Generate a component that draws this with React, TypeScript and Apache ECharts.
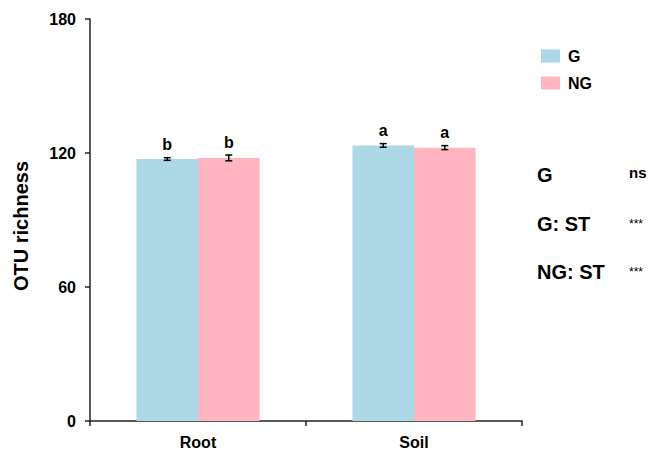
import React, { useEffect, useRef } from "react";
import * as echarts from "echarts";

const categories = ["Root", "Soil"];
const seriesNames = ["G", "NG"];
const gValues = [117.3, 123.4];
const ngValues = [117.8, 122.4];
const gErrors = [0.6, 0.8];
const ngErrors = [1.3, 0.9];
const gLetters = ["b", "a"];
const ngLetters = ["b", "a"];
const yTicks = [0, 60, 120, 180];
const statLabels = ["G", "G: ST", "NG: ST"];
const statValues = ["ns", "***", "***"];

const colors = ["#ADD8E6", "#FFB6C1"];
const FONT = "'Liberation Sans', Arial, sans-serif";
const GAP = 0.43;

export default function App() {
  const ref = useRef<HTMLDivElement>(null);
  useEffect(() => {
    if (!ref.current) return;
    document.body.style.margin = "0";
    const chart = echarts.init(ref.current, undefined, { renderer: "svg" });
    const errData: any[] = [];
    categories.forEach((c, i) => {
      errData.push([i, gValues[i], gErrors[i], gLetters[i], 0]);
      errData.push([i, ngValues[i], ngErrors[i], ngLetters[i], 1]);
    });
    const statGraphics: any[] = [];
    statLabels.forEach((s, i) => {
      const y = 175 + i * 48.5;
      statGraphics.push({
        type: "text",
        x: 537,
        y: y,
        style: { text: s, font: `bold 20px ${FONT}`, fill: "#000", verticalAlign: "middle" },
      });
      statGraphics.push({
        type: "text",
        x: 629,
        y: i === 0 ? y - 3 : y,
        style: {
          text: statValues[i],
          font: i === 0 ? `bold 15px ${FONT}` : `12px ${FONT}`,
          fill: "#000",
          verticalAlign: "middle",
        },
      });
    });
    chart.setOption({
      animation: false,
      textStyle: { fontFamily: FONT },
      grid: { left: 90, right: 128, top: 19, bottom: 27, containLabel: false },
      legend: {
        data: seriesNames,
        orient: "vertical",
        left: 536,
        top: 43,
        icon: "rect",
        itemWidth: 19,
        itemHeight: 13,
        itemGap: 11,
        textStyle: { fontSize: 16, fontWeight: "bold", color: "#000", fontFamily: FONT, padding: [0, 0, 0, 3] },
      },
      xAxis: {
        type: "category",
        data: categories,
        axisLine: { lineStyle: { color: "#222", width: 1.5 } },
        axisTick: { show: true, length: 5, lineStyle: { color: "#222", width: 1.5 } },
        axisLabel: { fontSize: 16, fontWeight: "bold", color: "#000", margin: 13, fontFamily: FONT },
      },
      yAxis: {
        type: "value",
        min: yTicks[0],
        max: yTicks[yTicks.length - 1],
        interval: 60,
        splitLine: { show: false },
        axisLine: { show: true, lineStyle: { color: "#222", width: 1.5 } },
        axisTick: { show: true, length: 5, lineStyle: { color: "#222", width: 1.5 } },
        axisLabel: { fontSize: 16, fontWeight: "bold", color: "#000", margin: 14, fontFamily: FONT },
      },
      graphic: [
        {
          type: "text",
          x: 21,
          y: 226,
          rotation: Math.PI / 2,
          style: {
            text: "OTU richness",
            font: `bold 20px ${FONT}`,
            fill: "#000",
            align: "center",
            verticalAlign: "middle",
          },
        },
        ...statGraphics,
      ],
      series: [
        {
          name: seriesNames[0],
          type: "bar",
          data: gValues,
          itemStyle: { color: colors[0] },
          barGap: "0%",
          barCategoryGap: GAP * 100 + "%",
        },
        {
          name: seriesNames[1],
          type: "bar",
          data: ngValues,
          itemStyle: { color: colors[1] },
          barGap: "0%",
          barCategoryGap: GAP * 100 + "%",
        },
        {
          type: "custom",
          data: errData,
          z: 10,
          renderItem: (params: any, api: any) => {
            const idx = api.value(0);
            const v = api.value(1);
            const e = api.value(2);
            const si = api.value(4);
            const letter = errData[params.dataIndex][3];
            const band = api.size([1, 0])[0];
            const barW = (band * (1 - GAP)) / 2;
            const c = api.coord([idx, v]);
            const x = c[0] + (si === 0 ? -barW / 2 : barW / 2);
            const top = api.coord([idx, v + e])[1];
            const bot = api.coord([idx, v - e])[1];
            const cap = 3.5;
            const ls = { stroke: "#000", lineWidth: 1.5 };
            return {
              type: "group",
              children: [
                { type: "line", shape: { x1: x, y1: top, x2: x, y2: bot }, style: ls },
                { type: "line", shape: { x1: x - cap, y1: top, x2: x + cap, y2: top }, style: ls },
                { type: "line", shape: { x1: x - cap, y1: bot, x2: x + cap, y2: bot }, style: ls },
                {
                  type: "text",
                  x: x,
                  y: top - 5,
                  style: {
                    text: letter,
                    font: `bold 16px ${FONT}`,
                    fill: "#000",
                    align: "center",
                    verticalAlign: "bottom",
                  },
                },
              ],
            };
          },
        },
      ],
    });
    return () => chart.dispose();
  }, []);
  return <div ref={ref} style={{ width: 650, height: 450 }} />;
}
